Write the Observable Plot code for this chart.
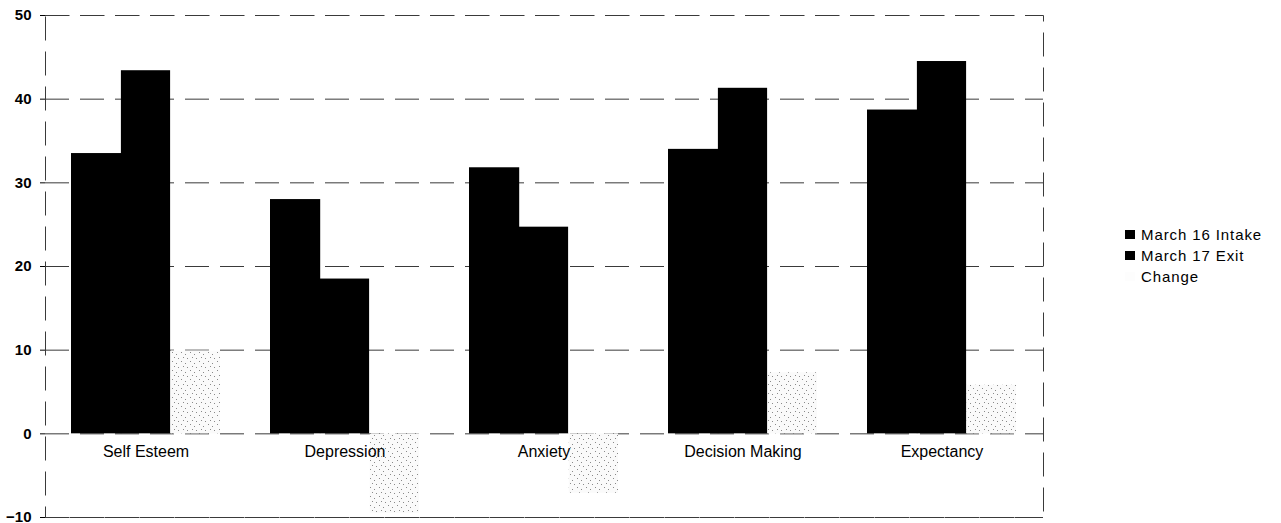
<!DOCTYPE html>
<html>
<head>
<meta charset="utf-8">
<script src="https://cdn.jsdelivr.net/npm/d3@7"></script>
<script src="https://cdn.jsdelivr.net/npm/@observablehq/plot@0.6"></script>
<style>
  html, body { margin: 0; padding: 0; background: #fff; }
  #wrap { position: relative; width: 1281px; height: 523px; font-family: "Liberation Sans", Arial, sans-serif; }
  #legend { position: absolute; left: 1125px; top: 224px; font-size: 15px; color: #000; line-height: 21px; letter-spacing: 0.9px; }
  #legend .row { display: flex; align-items: center; white-space: nowrap; }
  #legend .sw { width: 10px; height: 9px; margin-right: 6px; display: inline-block; }
</style>
</head>
<body>
<div id="wrap"><div id="chart"></div><div id="legend"></div></div>
<script>
const categories = ["Self Esteem", "Depression", "Anxiety", "Decision Making", "Expectancy"];
const intakeValues = [33.5, 28.0, 31.8, 34.0, 38.7];
const exitValues = [43.4, 18.5, 24.7, 41.3, 44.5];
const changeValues = [9.9, -9.5, -7.1, 7.3, 5.8];
const seriesNames = ["March 16 Intake", "March 17 Exit", "Change"];
const yTicks = [-10, 0, 10, 20, 30, 40, 50];

const rows = categories.map((c, i) => ({
  category: c, intake: intakeValues[i], exit: exitValues[i], change: changeValues[i]
}));

const W = 1281, H = 523;
const mL = 45, mR = W - 1043, mT = 15, mB = 6;
const band = (W - mL - mR) / (categories.length - 0.25 + 0.25) * 0.75;
const third = band / 3;

const gridStyle = {stroke: "#3a3a3a", strokeWidth: 1, strokeDasharray: "24,11"};

const svg = Plot.plot({
  width: W,
  height: H,
  marginLeft: mL,
  marginRight: mR,
  marginTop: mT,
  marginBottom: mB,
  style: {fontFamily: "Liberation Sans, Arial, sans-serif", background: "#fff", overflow: "visible"},
  x: {domain: categories, paddingInner: 0.25, paddingOuter: 0.125, axis: null},
  y: {domain: [-10, 50], axis: null},
  marks: [
    Plot.ruleY(yTicks, gridStyle),
    Plot.frame(gridStyle),
    Plot.barY(rows, {x: "category", y: "change", fill: "url(#speckle)", insetLeft: 2 * third, insetRight: 0}),
    Plot.barY(rows, {x: "category", y: "intake", fill: "#000", insetLeft: 0, insetRight: 2 * third - 1}),
    Plot.barY(rows, {x: "category", y: "exit", fill: "#000", insetLeft: third, insetRight: third}),
    Plot.text(rows, {x: "category", y: () => 0, text: "category", dy: 18, fontSize: 16, fill: "#000", letterSpacing: 0.7}),
    Plot.axisY({ticks: yTicks, tickSize: 5, tickPadding: 9, fontSize: 15, fontWeight: "bold", stroke: "#000", fill: "#000"})
  ]
});

const defs = d3.select(svg).insert("defs", ":first-child");
const pat = defs.append("pattern").attr("id", "speckle").attr("patternUnits", "userSpaceOnUse")
  .attr("width", 9).attr("height", 9);
pat.append("rect").attr("width", 9).attr("height", 9).attr("fill", "#fafafa");
[[1, 1], [5, 3], [3, 6], [7, 7]].forEach(([cx, cy]) =>
  pat.append("rect").attr("x", cx).attr("y", cy).attr("width", 1).attr("height", 1).attr("fill", "#8a8a8a"));

document.getElementById("chart").appendChild(svg);

const legendFills = ["#000", "#000", "#fdfdfd"];
const legend = document.getElementById("legend");
seriesNames.forEach((name, i) => {
  const row = document.createElement("div");
  row.className = "row";
  const sw = document.createElement("span");
  sw.className = "sw";
  sw.style.background = legendFills[i];
  const label = document.createElement("span");
  label.textContent = name;
  row.appendChild(sw);
  row.appendChild(label);
  legend.appendChild(row);
});
</script>
</body>
</html>
